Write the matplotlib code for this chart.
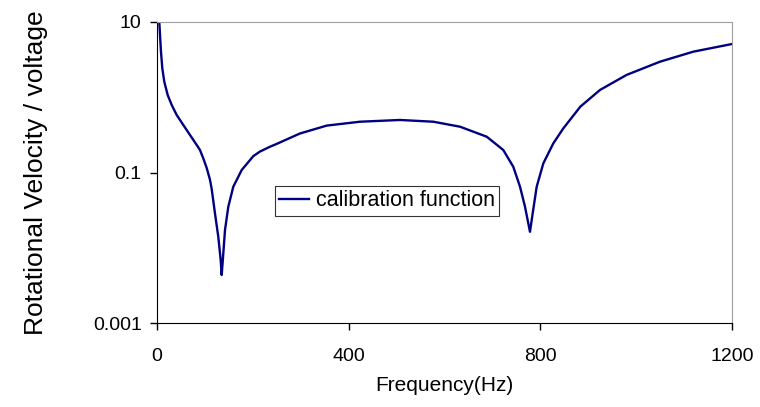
import matplotlib
matplotlib.use("Agg")
import matplotlib.pyplot as plt

# valeurs (fréquence en Hz, rapport vitesse / tension)
freq = [4.8, 6.3, 8.3, 11.1, 15.2, 22.3, 30.7, 41.1, 54.9, 68.9, 82.9, 89.7,
        96.6, 103.7, 110.6, 114.2, 121.0, 127.9, 132.9, 135.0, 138.4, 141.9,
        148.8, 159.2, 176.8, 201.0, 215, 235.8, 249.8, 298.4, 354.2, 423.7,
        507, 576.6, 632.4, 688.1, 722.7, 743.6, 757.6, 768, 774.9, 778.4,
        784, 792.4, 806.2, 827.1, 848, 883.5, 924.5, 980, 1049.8, 1119, 1200]
gain = [10, 6.7, 4.03, 2.42, 1.61, 1.07, 0.789, 0.581, 0.428, 0.315, 0.232,
        0.199, 0.154, 0.115, 0.08, 0.06, 0.0286, 0.0140, 0.00687, 0.00434,
        0.00843, 0.0172, 0.0351, 0.0647, 0.108, 0.165, 0.19, 0.22, 0.24,
        0.33, 0.42, 0.473, 0.499, 0.473, 0.406, 0.299, 0.199, 0.119, 0.0647,
        0.0351, 0.0211, 0.0163, 0.0286, 0.0647, 0.132, 0.244, 0.386, 0.75,
        1.25, 1.98, 2.97, 4.03, 5.1]

xticks = [0, 400, 800, 1200]
yticks = [0.001, 0.1, 10]
ytick_labels = ["0.001", "0.1", "10"]

plt.rcParams['font.family'] = ['Liberation Sans', 'DejaVu Sans']

fig = plt.figure(figsize=(7.6, 4.07), dpi=100)
ax = fig.add_axes([157/760, 1-323/407, 575/760, 301/407])

ax.plot(freq, gain, color='#000080', lw=1.7, label="calibration function")

ax.set_yscale('log')
ax.set_xlim(0, 1200)
ax.set_ylim(0.001, 10)
ax.set_xticks(xticks)
ax.set_yticks(yticks)
ax.set_yticklabels(ytick_labels)
ax.minorticks_off()
ax.tick_params(labelsize=14, length=5, width=1, color='black', pad=6)
ax.tick_params(axis='x', pad=13)

ax.spines['top'].set_color('#a0a0a0')
ax.spines['right'].set_color('#a0a0a0')
for s in ['left', 'bottom']:
    ax.spines[s].set_color('black')

ax.set_xlabel("Frequency(Hz)", fontsize=15, labelpad=8)
ax.set_ylabel("Rotational Velocity / voltage", fontsize=19, labelpad=32)

leg = ax.legend(loc='upper left', bbox_to_anchor=(118/575, 1-(186-22)/301),
                fontsize=15.5, frameon=True, fancybox=False, handlelength=1.4,
                handletextpad=0.3, borderpad=0.2, borderaxespad=0)
leg.get_frame().set_edgecolor('black')
leg.get_frame().set_linewidth(0.8)

fig.savefig("out.png", dpi=100)
